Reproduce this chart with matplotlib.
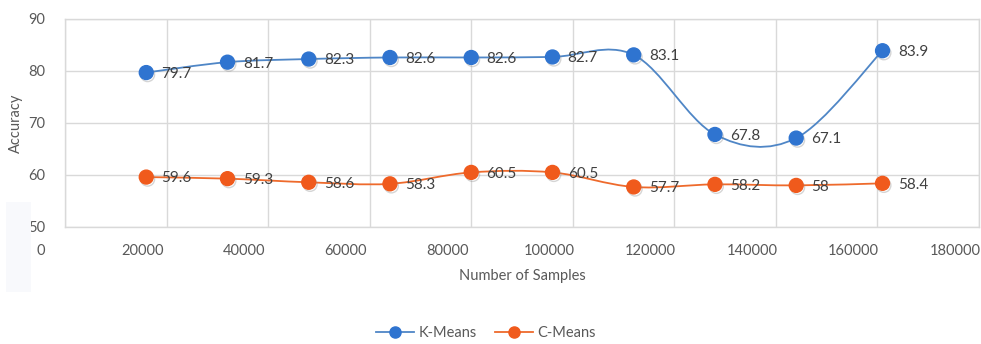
import numpy as np
import matplotlib.pyplot as plt
from matplotlib.path import Path
from matplotlib.patches import PathPatch, Rectangle
from matplotlib.lines import Line2D
import matplotlib.transforms as mtransforms
import matplotlib.patheffects as pe

plt.rcParams['font.family'] = ['Lato', 'DejaVu Sans']

samples = [16000, 32000, 48000, 64000, 80000, 96000, 112000, 128000, 144000, 161000]
kmeans = [79.7, 81.7, 82.3, 82.6, 82.6, 82.7, 83.1, 67.8, 67.1, 83.9]
cmeans = [59.6, 59.3, 58.6, 58.3, 60.5, 60.5, 57.7, 58.2, 58, 58.4]
kmeans_labels = ['79.7', '81.7', '82.3', '82.6', '82.6', '82.7', '83.1', '67.8', '67.1', '83.9']
cmeans_labels = ['59.6', '59.3', '58.6', '58.3', '60.5', '60.5', '57.7', '58.2', '58', '58.4']
xticks = [0, 20000, 40000, 60000, 80000, 100000, 120000, 140000, 160000, 180000]
yticks = [50, 60, 70, 80, 90]

blue_line = '#4f86c6'
blue_mark = '#2f74d0'
orange_line = '#ee6a2c'
orange_mark = '#f05a1c'
grid_c = '#d9d9d9'
text_c = '#595959'


def smooth_path(x, y):
    # Excel-style smoothed line: cubic bezier segments with catmull-rom tangents
    x = np.asarray(x, float)
    y = np.asarray(y, float)
    n = len(x)
    verts = [(x[0], y[0])]
    codes = [Path.MOVETO]
    for i in range(n - 1):
        p0 = np.array([x[max(i - 1, 0)], y[max(i - 1, 0)]])
        p1 = np.array([x[i], y[i]])
        p2 = np.array([x[i + 1], y[i + 1]])
        p3 = np.array([x[min(i + 2, n - 1)], y[min(i + 2, n - 1)]])
        c1 = p1 + (p2 - p0) / 6
        c2 = p2 - (p3 - p1) / 6
        verts += [tuple(c1), tuple(c2), tuple(p2)]
        codes += [Path.CURVE4] * 3
    return Path(verts, codes)


fig = plt.figure(figsize=(9.81, 3.44), dpi=100)
ax = fig.add_axes([65 / 981, 1 - 227 / 344, 914 / 981, 208 / 344])

# faint panel at the lower left
fig.patches.append(Rectangle((6 / 981, 1 - 292 / 344), 25 / 981, 90 / 344,
                             transform=fig.transFigure, facecolor='#f8f9fc',
                             edgecolor='none', zorder=0))

shadow = [pe.SimpleLineShadow(offset=(1, -1.5), shadow_color='#888888', alpha=0.35),
          pe.Normal()]

for ys, lc, mc, labels in [(kmeans, blue_line, blue_mark, kmeans_labels),
                           (cmeans, orange_line, orange_mark, cmeans_labels)]:
    ax.add_patch(PathPatch(smooth_path(samples, ys), facecolor='none',
                           edgecolor=lc, lw=1.3, zorder=3))
    ax.plot(samples, ys, linestyle='none', marker='o', markersize=10,
            color=mc, zorder=4, path_effects=shadow)
    for xv, yv, s in zip(samples, ys, labels):
        ax.annotate(s, (xv, yv), xytext=(11, -1), textcoords='offset points',
                    ha='left', va='center', fontsize=11, color='#404040', zorder=5)

ax.set_xlim(0, 180000)
ax.set_ylim(50, 90)
ax.set_xticks(xticks)
ax.set_yticks(yticks)
ax.set_xticklabels([str(t) for t in xticks])
ax.grid(True, color=grid_c, lw=1)
ax.set_axisbelow(True)
for sp in ax.spines.values():
    sp.set_color(grid_c)
    sp.set_linewidth(1)
ax.tick_params(length=0, labelsize=10.5, labelcolor=text_c)
ax.tick_params(axis='x', pad=12)
ax.tick_params(axis='y', pad=14)

# shift x tick labels left a bit
off = mtransforms.ScaledTranslation(-24 / 100, 0, fig.dpi_scale_trans)
for lab in ax.get_xticklabels():
    lab.set_transform(lab.get_transform() + off)

ax.set_xlabel('Number of Samples', fontsize=10.5, color=text_c, labelpad=8)
ax.set_ylabel('Accuracy', fontsize=10.5, color=text_c, labelpad=4)

handles = [Line2D([], [], color=blue_line, marker='o', markersize=8, markerfacecolor=blue_mark,
                  markeredgecolor=blue_mark, lw=1.3),
           Line2D([], [], color=orange_line, marker='o', markersize=8, markerfacecolor=orange_mark,
                  markeredgecolor=orange_mark, lw=1.3)]
fig.legend(handles, ['K-Means', 'C-Means'], loc='center', bbox_to_anchor=(486 / 981, 1 - 333 / 344),
           ncol=2, frameon=False, fontsize=10.5, labelcolor=text_c, handlelength=2.6,
           handletextpad=0.3, columnspacing=1.3)

fig.savefig('out.png', dpi=100)
